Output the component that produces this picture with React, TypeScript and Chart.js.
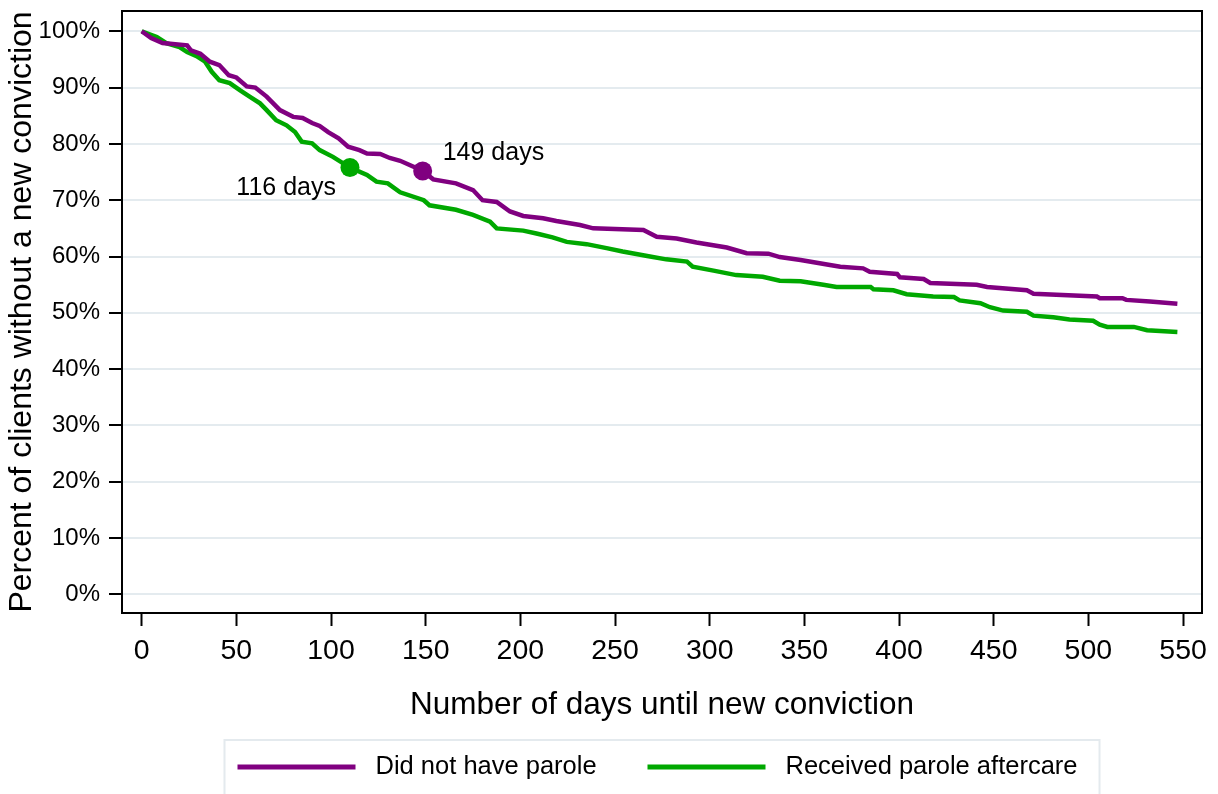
import React, { useEffect, useRef } from "react";
import { Chart, registerables } from "chart.js";

Chart.register(...registerables);

// ---------- data ----------
const seriesLabels = ["Did not have parole", "Received parole aftercare"];

const noParoleDays = [
  0, 5, 11, 24, 26, 31, 36, 41, 46, 50, 55.5, 60, 66, 73, 80, 85, 90, 94, 98.5, 104,
  109, 115, 119, 126, 131, 136.5, 148, 154, 166, 175, 180, 187.5, 194.5, 201.5, 212,
  219, 231.5, 238.5, 265, 272, 282.5, 293, 309, 319.5, 331, 337, 348, 363.5, 369, 381,
  384.5, 399, 400.5, 413, 416.5, 441, 446.5, 467.5, 471, 504.5, 506, 518, 520, 532.5, 547,
];
const noParolePct = [
  100, 98.8, 97.9, 97.5, 96.6, 96, 94.6, 94, 92.2, 91.8, 90.2, 90, 88.4, 86, 84.8, 84.6,
  83.7, 83.2, 82.1, 81, 79.5, 78.9, 78.3, 78.2, 77.5, 77, 75.3, 73.7, 73, 71.8, 70, 69.7,
  68, 67.2, 66.8, 66.3, 65.6, 65, 64.7, 63.5, 63.2, 62.5, 61.6, 60.6, 60.5, 59.9, 59.4,
  58.5, 58.2, 57.9, 57.3, 56.9, 56.3, 56, 55.3, 55, 54.6, 54, 53.4, 52.9, 52.6, 52.6,
  52.3, 52, 51.6,
];

const paroleDays = [
  0, 8, 13, 20, 24, 29, 33.5, 37, 41, 46.5, 52, 57, 62.5, 66, 71, 76.5, 81, 84.5, 90, 94,
  101, 110, 119, 124, 130, 136.5, 149, 152, 166, 175, 184, 187.5, 201.5, 208.5, 217,
  224.5, 235, 245.5, 254, 267, 277, 288, 291, 302, 314, 328, 337, 348, 360, 367, 385,
  386.5, 397, 404, 418, 429, 432, 443, 448, 455, 467.5, 471, 481.5, 490, 502.5, 506, 510,
  524, 531, 547,
];
const parolePct = [
  100, 99, 97.9, 97.2, 96.3, 95.6, 94.6, 92.8, 91.3, 90.8, 89.5, 88.4, 87.2, 86, 84.2,
  83.3, 82.1, 80.4, 80.1, 78.9, 77.7, 75.8, 74.5, 73.3, 73, 71.4, 70, 69.1, 68.3, 67.4,
  66.2, 65, 64.6, 64.1, 63.4, 62.6, 62.2, 61.5, 60.9, 60.1, 59.5, 59.1, 58.2, 57.5, 56.7,
  56.4, 55.7, 55.6, 55, 54.6, 54.6, 54.2, 54, 53.3, 52.9, 52.8, 52.2, 51.7, 51, 50.4,
  50.2, 49.5, 49.2, 48.8, 48.6, 47.9, 47.5, 47.5, 46.9, 46.6,
];

const markerDays = [148.4, 110];
const markerPct = [75.2, 75.8];
const markerLabels = ["149 days", "116 days"];

const xTicks = [0, 50, 100, 150, 200, 250, 300, 350, 400, 450, 500, 550];
const yTicks = [0, 10, 20, 30, 40, 50, 60, 70, 80, 90, 100];

// ---------- styles ----------
const FONT = "'Liberation Sans', Arial, Helvetica, sans-serif";
const COLORS = ["#800080", "#00a800"];

const toPoints = (xs: number[], ys: number[]) => xs.map((x, i) => ({ x, y: ys[i] }));

const decorPlugin = {
  id: "decor",
  afterDraw(chart: any) {
    const { ctx, chartArea: a } = chart;
    ctx.save();
    // plot frame
    ctx.strokeStyle = "#000";
    ctx.lineWidth = 2;
    ctx.strokeRect(a.left, a.top, a.right - a.left, a.bottom - a.top);

    // marker labels
    const offsets = [
      { dx: 20, dy: -18, align: "left" },
      { dx: -14, dy: 21, align: "right" },
    ];
    ctx.fillStyle = "#000";
    ctx.font = `25px ${FONT}`;
    ctx.textBaseline = "middle";
    [2, 3].forEach((dsIdx, i) => {
      const meta = chart.getDatasetMeta(dsIdx);
      const pt = meta.data[0];
      if (!pt) return;
      ctx.textAlign = offsets[i].align;
      ctx.fillText(markerLabels[i], pt.x + offsets[i].dx, pt.y + offsets[i].dy);
    });

    // legend
    const cx = (a.left + a.right) / 2;
    const boxLeft = cx - 437.5;
    const boxTop = a.bottom + 127;
    ctx.strokeStyle = "#e4eaee";
    ctx.lineWidth = 2;
    ctx.strokeRect(boxLeft, boxTop, 875, 80);
    const itemStarts = [13, 423];
    const ly = boxTop + 27;
    ctx.font = `25.5px ${FONT}`;
    ctx.textAlign = "left";
    [0, 1].forEach((dsIdx, i) => {
      const ds = chart.data.datasets[dsIdx];
      const x0 = boxLeft + itemStarts[i];
      ctx.strokeStyle = ds.borderColor;
      ctx.lineWidth = 5;
      ctx.lineCap = "butt";
      ctx.beginPath();
      ctx.moveTo(x0, ly);
      ctx.lineTo(x0 + 118, ly);
      ctx.stroke();
      ctx.fillStyle = "#000";
      ctx.fillText(ds.label, x0 + 138, ly);
    });
    ctx.restore();
  },
};

export default function App() {
  const ref = useRef<HTMLCanvasElement | null>(null);

  useEffect(() => {
    if (!ref.current) return;
    Chart.defaults.font.family = FONT;
    Chart.defaults.color = "#000";
    const chart = new Chart(ref.current, {
      type: "line",
      data: {
        datasets: [
          {
            label: seriesLabels[0],
            data: toPoints(noParoleDays, noParolePct),
            borderColor: COLORS[0],
            backgroundColor: COLORS[0],
            borderWidth: 4.5,
            pointRadius: 0,
            tension: 0,
            order: 2,
          },
          {
            label: seriesLabels[1],
            data: toPoints(paroleDays, parolePct),
            borderColor: COLORS[1],
            backgroundColor: COLORS[1],
            borderWidth: 4.5,
            pointRadius: 0,
            tension: 0,
            order: 3,
          },
          {
            type: "scatter",
            label: markerLabels[0],
            data: [{ x: markerDays[0], y: markerPct[0] }],
            backgroundColor: COLORS[0],
            borderColor: COLORS[0],
            pointRadius: 9.5,
            borderWidth: 0,
            order: 0,
          },
          {
            type: "scatter",
            label: markerLabels[1],
            data: [{ x: markerDays[1], y: markerPct[1] }],
            backgroundColor: COLORS[1],
            borderColor: COLORS[1],
            pointRadius: 9.5,
            borderWidth: 0,
            order: 1,
          },
        ] as any,
      },
      options: {
        animation: false,
        responsive: false,
        events: [],
        layout: { autoPadding: false, padding: { top: 3, right: 8, bottom: 73, left: 0 } },
        plugins: {
          legend: { display: false },
          tooltip: { enabled: false },
          title: { display: false },
        },
        scales: {
          x: {
            type: "linear",
            min: -10.4,
            max: 560,
            afterBuildTicks: (s: any) => {
              s.ticks = xTicks.map((v) => ({ value: v }));
            },
            afterFit: (s: any) => {
              s.height = 108;
              s.paddingLeft = 0;
              s.paddingRight = 0;
            },
            grid: {
              drawOnChartArea: false,
              drawTicks: true,
              tickLength: 13,
              tickColor: "#000",
              tickWidth: 2,
            },
            border: { display: false },
            ticks: {
              font: { size: 28.5 },
              padding: 8,
              maxRotation: 0,
              color: "#000",
            },
            title: {
              display: true,
              text: "Number of days until new conviction",
              font: { size: 31.5, lineHeight: 1 },
              padding: 0,
              color: "#000",
            },
          },
          y: {
            type: "linear",
            min: -3.3,
            max: 103.6,
            afterBuildTicks: (s: any) => {
              s.ticks = yTicks.map((v) => ({ value: v }));
            },
            afterFit: (s: any) => {
              s.width = 114;
              s.paddingTop = 0;
              s.paddingBottom = 0;
            },
            grid: {
              color: "#e4ebef",
              lineWidth: 2,
              drawTicks: true,
              tickLength: 13,
              tickColor: "#000",
              tickWidth: 2,
            },
            border: { display: false },
            ticks: {
              font: { size: 24 },
              padding: 9,
              color: "#000",
              callback: (v: any) => `${v}%`,
            },
            title: {
              display: true,
              text: "Percent of clients without a new conviction",
              font: { size: 32, lineHeight: 0.9 },
              padding: 0,
              color: "#000",
            },
          },
        },
      },
      plugins: [decorPlugin],
    });
    return () => chart.destroy();
  }, []);

  return (
    <div style={{ width: 1202, height: 786 }}>
      <canvas ref={ref} width={1202} height={786} style={{ display: "block" }} />
    </div>
  );
}
